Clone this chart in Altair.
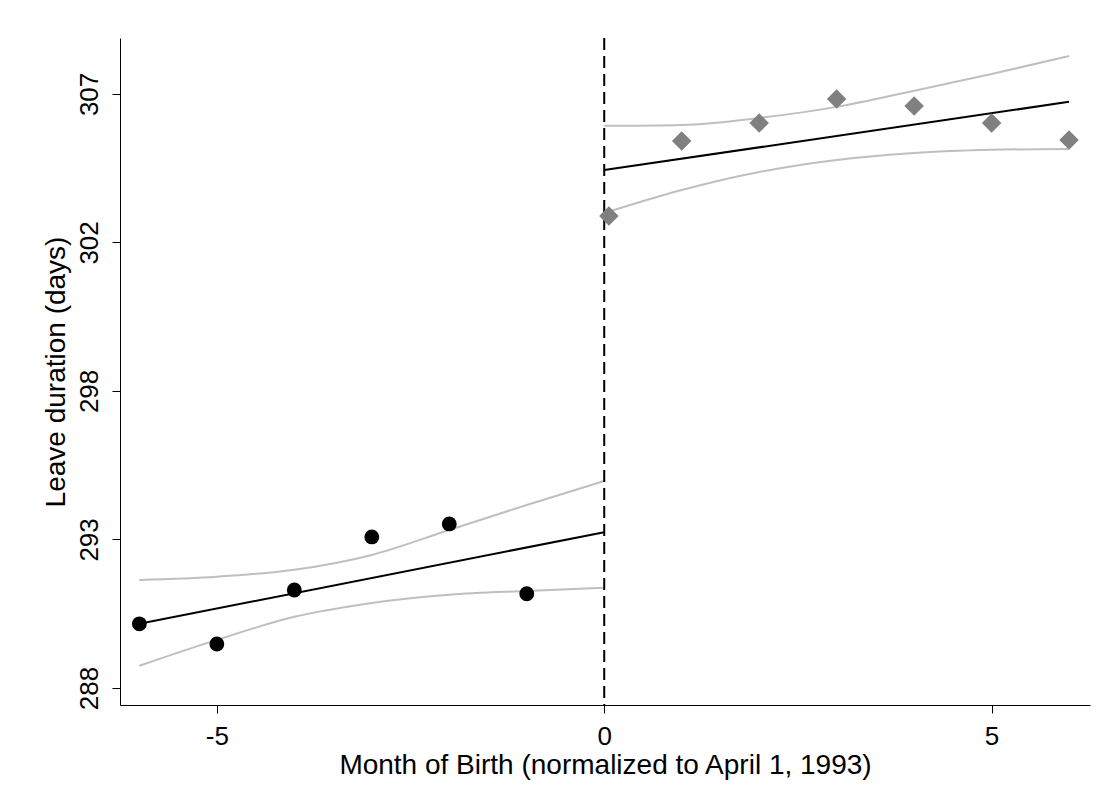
import altair as alt
import pandas as pd

left_x = [-6, -5, -4, -3, -2, -1]
left_y = [290.23, 289.59, 291.30, 292.98, 293.39, 291.18]
right_x = [0.06, 1, 2, 3, 4, 5, 6]
right_y = [303.14, 305.51, 306.08, 306.84, 306.62, 306.08, 305.54]

fitL_x = [-6, 0]; fitL_y = [290.23, 293.13]
fitR_x = [0, 6]; fitR_y = [304.59, 306.75]

ciL_x = [-6, -5, -4, -3, -2, -1, 0]
ciL_hi = [291.62, 291.72, 291.94, 292.41, 293.2, 293.99, 294.75]
ciL_lo = [288.9, 289.72, 290.45, 290.89, 291.15, 291.27, 291.37]
ciR_x = [0, 1, 2, 3, 4, 5, 6]
ciR_hi = [305.99, 306.02, 306.24, 306.59, 307.1, 307.63, 308.2]
ciR_lo = [303.23, 303.96, 304.53, 304.91, 305.13, 305.23, 305.26]

ytick_vals = [288.2, 292.9, 297.6, 302.3, 307.0]

X = alt.Scale(domain=[-6.25, 6.27], nice=False, zero=False)
Y = alt.Scale(domain=[287.66, 308.77], nice=False, zero=False)
F = "Liberation Sans"

xax = alt.Axis(title="Month of Birth (normalized to April 1, 1993)", values=[-5, 0, 5],
               labelExpr="datum.value < 0 ? '-' + format(-datum.value,'d') : format(datum.value,'d')",
               grid=False, labelFontSize=26, titleFontSize=28, labelFont=F, titleFont=F,
               titleFontWeight="normal", labelColor="black", titleColor="black",
               domainColor="black", tickColor="black", tickSize=8, labelPadding=10, titlePadding=2)
yax = alt.Axis(title="Leave duration (days)", values=ytick_vals,
               labelExpr="format(round(datum.value),'d')",
               grid=False, labelFontSize=26, titleFontSize=28, labelFont=F, titleFont=F,
               titleFontWeight="normal", labelColor="black", titleColor="black",
               domainColor="black", tickColor="black", tickSize=8,
               labelAngle=270, labelAlign="center", labelBaseline="bottom", labelPadding=10,
               titlePadding=6)

rows = []
for i, x in enumerate(ciL_x):
    rows.append(dict(x=x, y=ciL_hi[i], g="Lhi")); rows.append(dict(x=x, y=ciL_lo[i], g="Llo"))
for i, x in enumerate(ciR_x):
    rows.append(dict(x=x, y=ciR_hi[i], g="Rhi")); rows.append(dict(x=x, y=ciR_lo[i], g="Rlo"))
ci = alt.Chart(pd.DataFrame(rows)).mark_line(color="#bfbfbf", strokeWidth=2, interpolate="monotone").encode(
    x=alt.X("x:Q", scale=X, axis=xax), y=alt.Y("y:Q", scale=Y, axis=yax), detail="g:N")

fit = pd.DataFrame(dict(x=fitL_x + fitR_x, y=fitL_y + fitR_y, g=["L", "L", "R", "R"]))
fitc = alt.Chart(fit).mark_line(color="black", strokeWidth=2).encode(
    x=alt.X("x:Q", scale=X), y=alt.Y("y:Q", scale=Y), detail="g:N")

vl = alt.Chart(pd.DataFrame(dict(x=[0]))).mark_rule(color="black", strokeWidth=2, strokeDash=[12, 6]).encode(
    x=alt.X("x:Q", scale=X))

pl = alt.Chart(pd.DataFrame(dict(x=left_x, y=left_y))).mark_point(
    shape="circle", filled=True, color="black", opacity=1, size=220).encode(
    x=alt.X("x:Q", scale=X), y=alt.Y("y:Q", scale=Y))
pr = alt.Chart(pd.DataFrame(dict(x=right_x, y=right_y))).mark_point(
    shape="diamond", filled=True, color="#808080", opacity=1, size=380).encode(
    x=alt.X("x:Q", scale=X), y=alt.Y("y:Q", scale=Y))

chart = alt.layer(ci, fitc, vl, pl, pr).properties(
    width=970, height=667, autosize=alt.AutoSizeParams(type="none"),
    padding={"left": 112, "top": 30, "right": 12, "bottom": 95},
    background="white"
).configure_view(stroke=None)

chart.save("out.html", embed_options={"renderer": "svg", "actions": False})
